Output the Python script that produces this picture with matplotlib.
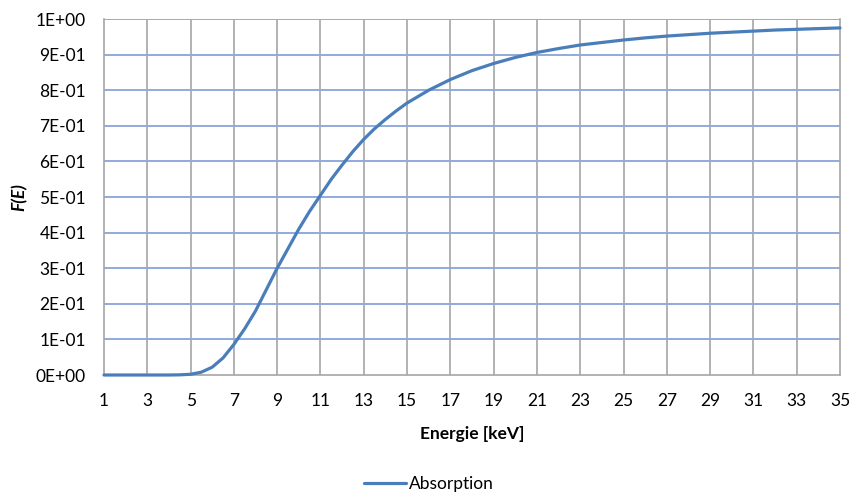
import matplotlib
matplotlib.use("Agg")
import matplotlib.pyplot as plt

plt.rcParams['font.family'] = ['Lato', 'DejaVu Sans']

# Energy (keV) and absorption fraction F(E)
energy = [1, 2, 3, 4, 4.5, 5, 5.5, 6, 6.5, 7, 7.5, 8, 8.5, 9, 9.5, 10, 10.5,
          11, 11.5, 12, 12.5, 13, 13.5, 14, 14.5, 15, 16, 17, 18, 19, 20, 21, 22,
          23, 24, 25, 26, 27, 28, 29, 30, 31, 32, 33, 34, 35]
absorption = [0.0, 0.0, 0.0, 0.0, 0.0005, 0.002, 0.008, 0.022, 0.048, 0.086,
              0.13, 0.18, 0.24, 0.30, 0.355, 0.41, 0.46, 0.505, 0.55, 0.59,
              0.628, 0.662, 0.692, 0.718, 0.742, 0.764, 0.80, 0.83, 0.855, 0.875,
              0.892, 0.906, 0.917, 0.927, 0.934, 0.941, 0.947, 0.952, 0.956,
              0.96, 0.963, 0.966, 0.969, 0.971, 0.973, 0.975]

x_ticks = list(range(1, 36, 2))
y_ticks = [0.0, 0.1, 0.2, 0.3, 0.4, 0.5, 0.6, 0.7, 0.8, 0.9, 1.0]
y_tick_labels = ["0E+00", "1E-01", "2E-01", "3E-01", "4E-01", "5E-01",
                 "6E-01", "7E-01", "8E-01", "9E-01", "1E+00"]

fig = plt.figure(figsize=(8.52, 4.93), dpi=100)
ax = fig.add_axes([104 / 852, 1 - 375 / 493, (840 - 104) / 852, (375 - 19) / 493])

line, = ax.plot(energy, absorption, color="#4A7EBB", lw=2.3,
                solid_joinstyle="round", solid_capstyle="round", zorder=3,
                label="Absorption", clip_on=False)

ax.set_xlim(1, 35)
ax.set_ylim(0, 1)
ax.set_xticks(x_ticks)
ax.set_yticks(y_ticks)
ax.set_yticklabels(y_tick_labels)

# vertical grey grid, horizontal blue grid
for xv in x_ticks[1:-1]:
    ax.axvline(xv, color="#A6A6A6", lw=1.2, zorder=1)
for yv in y_ticks[1:]:
    ax.axhline(yv, color="#8FAADC", lw=1.4, zorder=1)

for side in ["left", "right", "bottom"]:
    ax.spines[side].set_color("#A6A6A6")
    ax.spines[side].set_linewidth(1.2)
ax.spines["top"].set_visible(False)

ax.tick_params(axis="both", length=0, labelsize=12.5, colors="black")
ax.tick_params(axis="y", pad=13)
ax.tick_params(axis="x", pad=13)

fig.text(472 / 852, 1 - 434 / 493, "Energie [keV]", ha="center", va="center",
         fontsize=12.5, fontweight="bold")
fig.text(19 / 852, 1 - 197 / 493, "F(E)", ha="center", va="center",
         rotation=90, fontsize=12.5, fontweight="bold", style="italic")

fig.legend(handles=[line], loc="center", bbox_to_anchor=(429 / 852, 1 - 484 / 493),
           frameon=False, fontsize=12.5, handlelength=2.4, handletextpad=0.2)

fig.savefig("out.png", dpi=100)
